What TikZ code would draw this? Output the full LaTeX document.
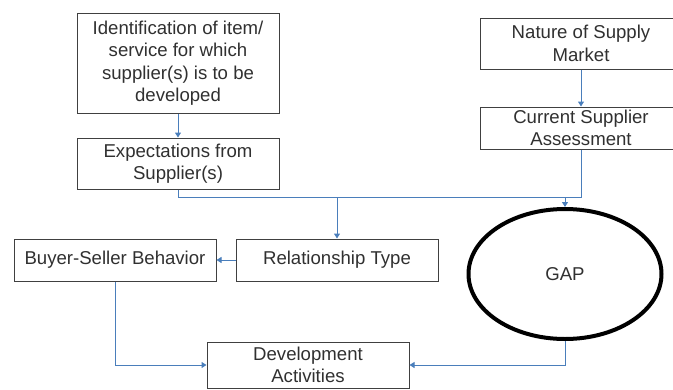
\documentclass[tikz,border=0pt]{standalone}
\usepackage{fontspec}
\setmainfont{Liberation Sans}
\usetikzlibrary{arrows.meta,shapes.geometric}
\definecolor{boxline}{HTML}{404040}
\definecolor{flowblue}{HTML}{4A7EBB}
\definecolor{boxtext}{HTML}{303030}
\begin{document}
\begin{tikzpicture}[x=1pt,y=-1pt,
    box/.style={draw=boxline,line width=1pt,rectangle,minimum width=202pt,inner sep=0pt,
      align=center,text=boxtext,font=\fontsize{18.6}{22.5}\selectfont},
    gapnode/.style={draw=black,line width=4pt,ellipse,minimum width=193pt,minimum height=130pt,
      inner sep=0pt,text=boxtext,font=\fontsize{18.6}{22.5}\selectfont},
    flow/.style={draw=flowblue,line width=1pt,-{Triangle[width=6pt,length=5pt]}}]
      \clip (0,0) rectangle (673,389);
      \draw
        (178,63) node[box,minimum height=100pt] (ident){Identification of item/\\service for which\\supplier(s) is to be\\developed}
        (178,163.5) node[box,minimum height=51pt] (expect){Expectations from\\Supplier(s)}
        (581,43.5) node[box,minimum height=51pt] (nature){Nature of Supply\\Market}
        (581,128) node[box,minimum height=42pt] (current){Current Supplier\\Assessment}
        (337,260) node[box,minimum height=42pt] (relation){Relationship Type}
        (115,260) node[box,minimum height=42pt] (buyer){Buyer-Seller Behavior}
        (565,274) node[gapnode] (gap){GAP}
        (308,365) node[box,minimum height=46pt] (develop){Development\\Activities};
      \coordinate (bus) at (0,197);
      \begin{scope}[flow]
        \draw (ident) to (expect);
        \draw (nature) to (current);
        \draw[-] (expect.south) |- (bus -| current.south) -- (current.south);
        \draw (bus -| relation.north) -- (relation.north);
        \draw (bus -| gap.north) -- (gap.north);
        \draw (relation) to (buyer);
        \draw (buyer.south) |- (develop.west);
        \draw (gap.south) |- (develop.east);
      \end{scope}
    \end{tikzpicture}
\end{document}
